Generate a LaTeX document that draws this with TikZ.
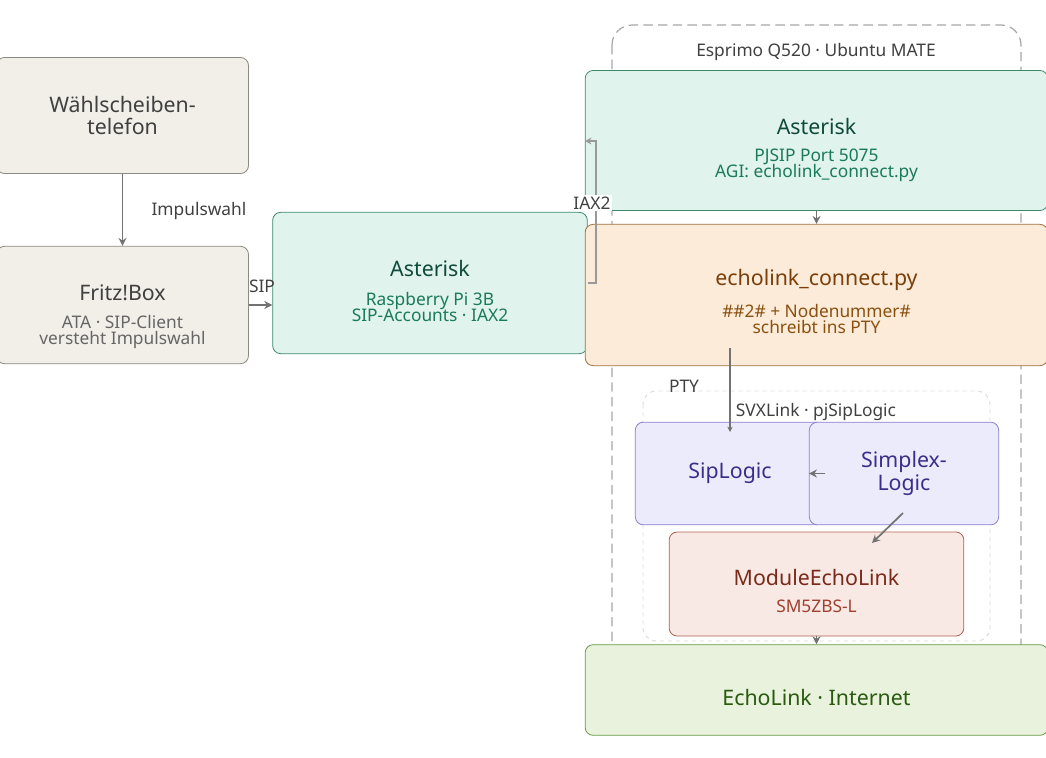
\documentclass[tikz,border=0pt]{standalone}
\usepackage{fontspec}
\setmainfont{Noto Sans}
\usetikzlibrary{arrows.meta}
\definecolor{gf}{HTML}{F2EFE9}\definecolor{gd}{HTML}{8A8A80}
\definecolor{af}{HTML}{E0F3EC}\definecolor{ad}{HTML}{3A8A6A}
\definecolor{ef}{HTML}{FBEBD8}\definecolor{ed}{HTML}{A0703A}
\definecolor{pf}{HTML}{ECEBFB}\definecolor{pd}{HTML}{8A80D0}
\definecolor{mf}{HTML}{F9E9E4}\definecolor{md}{HTML}{B06050}
\definecolor{lf}{HTML}{E8F2DC}\definecolor{ld}{HTML}{6A9A4A}
\definecolor{at}{HTML}{0F4A3A}\definecolor{as}{HTML}{1A7A5A}
\definecolor{et}{HTML}{7A3F0A}\definecolor{es}{HTML}{8A5010}
\definecolor{pt}{HTML}{3A2E8A}
\definecolor{mt}{HTML}{7A2A1A}\definecolor{ms}{HTML}{A04030}
\definecolor{lt}{HTML}{2A5A10}
\begin{document}
\begin{tikzpicture}[x=0.75pt,y=-0.75pt,
 box/.style={draw,rounded corners=6pt,line width=0.6pt,align=center,inner sep=0pt},
 ar/.style={draw=black!55,line width=1.3pt,-{Stealth[length=6pt,width=6pt]}},
 lab/.style={text=black!75,font=\fontsize{13}{15}\selectfont},
 t/.style={font=\fontsize{16}{19}\selectfont},
 s/.style={font=\fontsize{13}{15}\selectfont}]
\useasboundingbox (0,0) rectangle (1046,757);
% containers
\draw[black!35,line width=0.9pt,dash pattern=on 7pt off 4pt,rounded corners=15pt] (612,25) rectangle (1021,686);
\node[lab] (esp) at (816,52) {Esprimo Q520 · Ubuntu MATE};
\draw[black!15,dashed,line width=0.7pt,rounded corners=10pt] (643,391) rectangle (990,641);
\node[lab] (svx) at (816,412) {SVXLink · pjSipLogic};
% boxes
\node[box,fill=gf,draw=gd,minimum width=189,minimum height=87] (w) at (122.5,115.5) {};
\node[t,text=black!75,align=center] at (w) {Wählscheiben-\\[-2pt]telefon};
\node[box,fill=gf,draw=gd,minimum width=189,minimum height=88] (f) at (122.5,305) {};
\node[t,text=black!75] at (122.5,293) {Fritz!Box};
\node[s,text=black!60,align=center] at (122.5,332) {ATA · SIP-Client\\[-3pt]versteht Impulswahl};
\node[box,fill=af,draw=ad,minimum width=236,minimum height=106] (a1) at (430,283) {};
\node[t,text=at] at (430,268) {Asterisk};
\node[s,text=as,align=center] at (430,307) {Raspberry Pi 3B\\[-3pt]SIP-Accounts · IAX2};
\node[box,fill=af,draw=ad,minimum width=347,minimum height=105] (a2) at (816.5,140.5) {};
\node[t,text=at] at (816.5,126) {Asterisk};
\node[s,text=as,align=center] at (816.5,165) {PJSIP Port 5075\\[-3pt]AGI: echolink\_connect.py};
\node[box,fill=ef,draw=ed,minimum width=347,minimum height=106] (e) at (816.5,295) {};
\node[t,text=et] at (816.5,280) {echolink\_connect.py};
\node[s,text=es,align=center] at (816.5,319) {\#\#2\# + Nodenummer\#\\[-3pt]schreibt ins PTY};
\node[box,fill=pf,draw=pd,minimum width=142,minimum height=77] (sl) at (730,473.5) {};
\node[t,text=pt] at (sl) {SipLogic};
\node[box,fill=pf,draw=pd,minimum width=142,minimum height=77] (sx) at (904,473.5) {};
\node[t,text=pt,align=center] at (sx) {Simplex-\\[-2pt]Logic};
\node[box,fill=mf,draw=md,minimum width=221,minimum height=78] (m) at (816.5,584) {};
\node[t,text=mt] at (816.5,577) {ModuleEchoLink};
\node[s,text=ms] at (816.5,606) {SM5ZBS-L};
\node[box,fill=lf,draw=ld,minimum width=347,minimum height=68] (el) at (816.5,690) {};
\node[t,text=lt] at (816.5,697) {EchoLink · Internet};
% edges
\draw[ar] (w.south) -- (f.north);
\node[lab] at (199,211) {Impulswahl};
\draw[ar] (f.east |- 0,305) -- (a1.west |- 0,305);
\node[lab] at (262,286) {SIP};
\draw[black!40,line width=0.8pt,-{Stealth[length=5pt,width=5pt,open]}] (a1.east |- 0,283) -- (596,283) -- (596,141) -- (a2.west |- 0,141);
\node[lab,fill=white,inner sep=1pt] at (592,203) {IAX2};
\draw[ar] (a2.south) -- (e.north);
\draw[draw=black!55,line width=1.3pt,-{Stealth[length=4pt,width=4pt]}] (730,348) -- (730,432);
\node[lab] at (684,386) {PTY};
\draw[ar] (sl.east) -- (sx.west);
\draw[ar] (903,513) -- (872,543);
\draw[ar] (m.south) -- (el.north);
\end{tikzpicture}
\end{document}
